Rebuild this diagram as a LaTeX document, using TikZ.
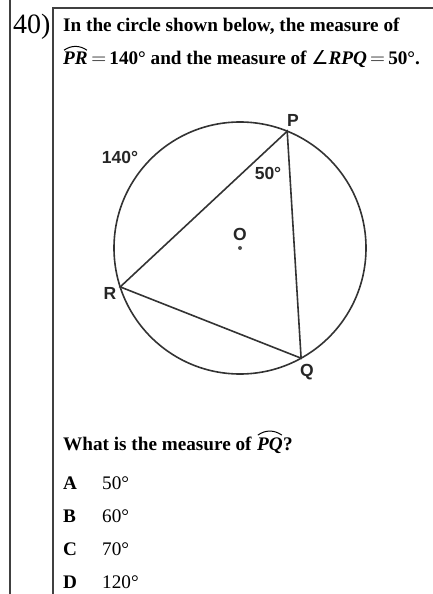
\documentclass[tikz,border=0pt]{standalone}
\usepackage{fontspec}
\setmainfont{Liberation Serif}
\newfontfamily\labelfont{Liberation Sans}
\newfontfamily\symfont{DejaVu Sans}
\usetikzlibrary{positioning}

\begin{document}
\begin{tikzpicture}[x=1bp, y=-1bp,
    txt/.style={anchor=base west, inner sep=0pt, font=\fontsize{19.2bp}{22bp}\selectfont\bfseries},
    opt/.style={anchor=base west, inner sep=0pt, font=\fontsize{19.2bp}{22bp}\selectfont},
    lbl/.style={inner sep=0pt, font=\fontsize{17.5bp}{18bp}\selectfont\labelfont\bfseries, text=black!85},
    frame/.style={line width=2bp, black!75},
    geo/.style={line width=1.6bp, black!80},
    arcmark/.style={line width=1bp},
]
\useasboundingbox (0,0) rectangle (433,594);

% Frame
\draw[frame] (9.5,0) -- (9.5,594);
\draw[frame] (52.5,594) -- (52.5,8) -- (433,8);
\node[anchor=base west, inner sep=0pt, font=\fontsize{28bp}{30bp}\selectfont] (num) at (13,34) {40)};

% Question
\node[txt] (line1) at (63,32) {In the circle shown below, the measure of};
\node[txt] (arcPR) at (63,65) {\textit{PR}};
\node[txt] (line2) at (arcPR.base east) {\,$=$\,140° and the measure of {\mdseries\symfont ∠}\textit{RPQ}\,$=$\,50°.};
\draw[arcmark] ([xshift=1bp,yshift=2bp]arcPR.north west) to[bend left=35] ([xshift=-1bp,yshift=2bp]arcPR.north east);

% Circle and triangle
\coordinate (O) at (240,248);
\coordinate (P) at (287.2,131.2);
\coordinate (R) at (120.2,286.9);
\coordinate (Q) at (301.1,358.2);
\draw[geo] (O) circle[radius=126];
\draw[geo] (P) -- (R) -- (Q) -- cycle;
\fill[black!70] (O) circle[radius=2];

% Labels
\node[lbl] (labP) at (293,120) {P};
\node[lbl] (labQ) at (307,372) {Q};
\node[lbl] (labR) at (110,293) {R};
\node[lbl] (labO) at (240,234) {O};
\node[lbl] (lab140) at (120,157) {140°};
\node[lbl] (lab50) at (268,173) {50°};

% Answer choices
\node[txt] (ask) at (63,450) {What is the measure of};
\node[txt] (arcPQ) at ([xshift=5bp]ask.base east) {\textit{PQ}};
\node[txt] (qmark) at (arcPQ.base east) {?};
\draw[arcmark] ([xshift=1bp,yshift=2bp]arcPQ.north west) to[bend left=35] ([xshift=-1bp,yshift=2bp]arcPQ.north east);
\foreach \y/\l/\v in {489/A/50,522/B/60,555/C/70,588/D/120} {
  \node[txt] (let\l) at (63,\y) {\l};
  \node[opt] (val\l) at (102,\y) {\v°};
}

\end{tikzpicture}
\end{document}
